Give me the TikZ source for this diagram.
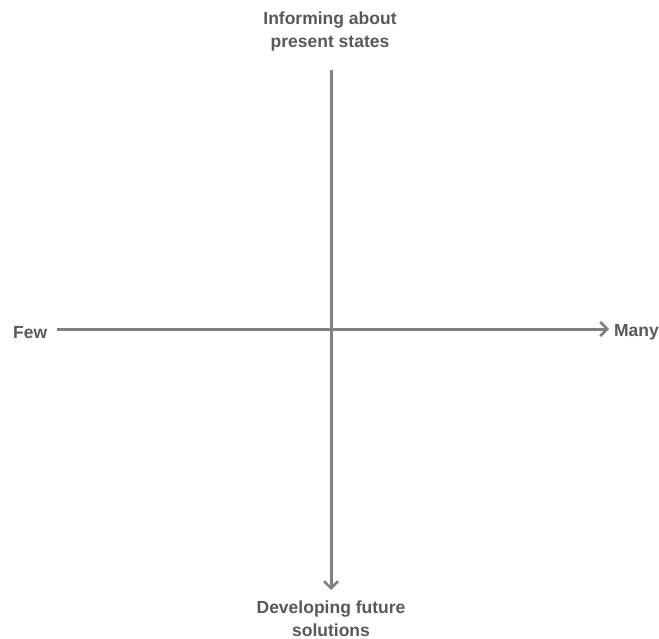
\documentclass[tikz,border=0pt]{standalone}
\usepackage{fontspec}
\setmainfont{Liberation Sans}
\usetikzlibrary{arrows.meta}
\begin{document}
\begin{tikzpicture}[x=1pt,y=-1pt,
  lbl/.style={font=\bfseries\fontsize{17.5}{23}\selectfont, text=black!65, align=center, inner sep=0pt},
  axis/.style={draw=black!50, line width=3pt, -{Straight Barb[length=7pt,width=14pt,line width=2.6pt]}}]
\useasboundingbox (0,0) rectangle (659,639);
\node[lbl] (top) at (330,31) {Informing about\\present states};
\node[lbl] (bot) at (331,619) {Developing future\\solutions};
\node[lbl, anchor=west] (few) at (13,333) {Few};
\node[lbl, anchor=east] (many) at (659,332) {Many};
\coordinate (vt) at (331,70);
\coordinate (vb) at (331,590);
\coordinate (hl) at (57,329);
\coordinate (hr) at (609,329);
\draw[axis] (vt) -- (vb);
\draw[axis] (hl) -- (hr);
\end{tikzpicture}
\end{document}
